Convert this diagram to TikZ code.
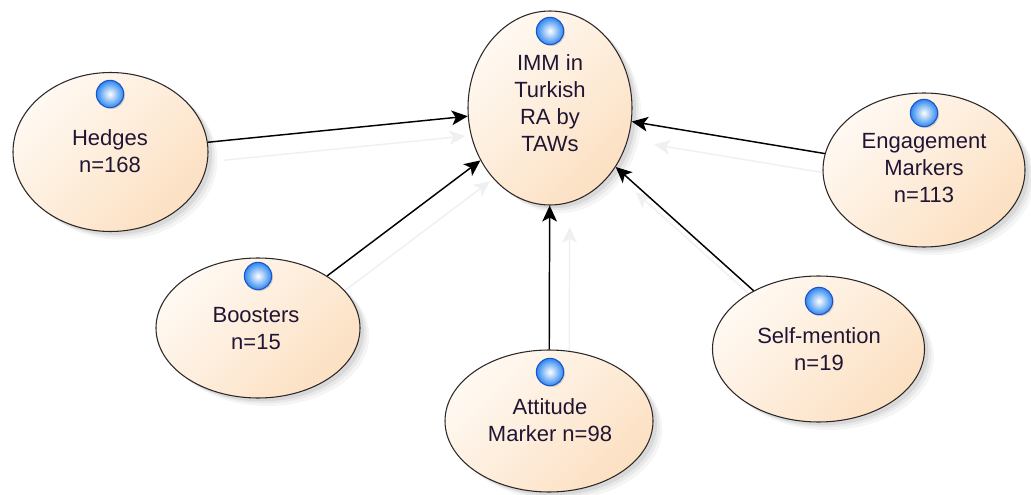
\documentclass[tikz,border=0pt]{standalone}
\usepackage{fontspec}
\setmainfont{Liberation Sans}
\usetikzlibrary{shapes.geometric,arrows.meta,shadows,backgrounds}

\definecolor{bubbleLight}{RGB}{255,249,242}
\definecolor{bubbleDark}{RGB}{252,224,194}
\definecolor{bubbleEdge}{RGB}{45,40,40}
\definecolor{labelInk}{RGB}{32,22,52}
\definecolor{dotRim}{RGB}{25,85,200}
\definecolor{dotBlue}{RGB}{45,135,240}

\begin{document}
\begin{tikzpicture}[x=0.75pt,y=-0.75pt,
  bubble/.style={ellipse, draw=bubbleEdge, line width=0.8pt,
    top color=bubbleLight, bottom color=bubbleDark, shading angle=45,
    inner sep=0pt,
    general shadow={fill=black, fill opacity=.04, shadow xshift=7pt, shadow yshift=-6pt},
    general shadow={fill=black, fill opacity=.05, shadow xshift=5pt, shadow yshift=-4pt},
    general shadow={fill=black, fill opacity=.07, shadow xshift=3pt, shadow yshift=-2.5pt}},
  dot/.style={circle, minimum size=20.5pt, inner sep=0pt, draw=dotRim, line width=0.8pt,
    inner color=white, outer color=dotBlue,
    general shadow={fill=black, fill opacity=.15, shadow xshift=1pt, shadow yshift=-1pt}},
  caption/.style={font=\fontsize{16.5}{20.25}\selectfont, text=labelInk, align=center, inner sep=0pt},
  link/.style={draw=black, line width=1.1pt, -{Stealth[length=12pt,width=11pt,inset=3pt]}},
  ghost/.style={draw=black!6, line width=1.1pt, -{Stealth[length=12pt,width=11pt,inset=3pt]}}
]
\useasboundingbox (0,0) rectangle (1031,495);

% ellipses
\node[bubble, minimum width=123pt, minimum height=145.5pt] (imm) at (550,108) {};
\node[bubble, minimum width=146.25pt, minimum height=119.25pt] (hed) at (110.5,152) {};
\node[bubble, minimum width=151.5pt, minimum height=115.5pt] (eng) at (924,170) {};
\node[bubble, minimum width=156pt, minimum height=106.5pt] (att) at (549,421) {};
\node[bubble, minimum width=153pt, minimum height=105pt] (boo) at (258,328) {};
\node[bubble, minimum width=159pt, minimum height=109.5pt] (sel) at (818.5,349) {};

% blue markers
\node[dot] (immI) at (550,31) {};
\node[dot] (hedI) at (110,94) {};
\node[dot] (engI) at (924,113) {};
\node[dot] (attI) at (550,372) {};
\node[dot] (booI) at (258,276) {};
\node[dot] (selI) at (819,301) {};

% labels
\node[caption] (immT) at (550,103) {IMM in\\Turkish\\RA by\\TAWs};
\node[caption] (hedT) at (110,151) {Hedges\\n=168};
\node[caption] (engT) at (924,168) {Engagement\\Markers\\n=113};
\node[caption] (attT) at (550,420) {Attitude\\Marker n=98};
\node[caption] (booT) at (256,329) {Boosters\\n=15};
\node[caption] (selT) at (819,349) {Self-mention\\n=19};

% faint connector shadows
\begin{pgfonlayer}{background}
  \draw[ghost, transform canvas={shift={(16,18)}}, shorten >=14] (hed) -- (imm);
  \draw[ghost, transform canvas={shift={(16,16)}}, shorten >=6] (boo) -- (imm);
  \draw[ghost, transform canvas={shift={(20,16)}}, shorten >=4] (att) -- (imm);
  \draw[ghost, transform canvas={shift={(12,18)}}, shorten >=8] (sel) -- (imm);
  \draw[ghost, transform canvas={shift={(4,20)}}, shorten >=14] (eng) -- (imm);
\end{pgfonlayer}

% connectors
\draw[link] (hed) -- (imm);
\draw[link] (boo) -- (imm);
\draw[link] (att) -- (imm);
\draw[link] (sel) -- (imm);
\draw[link] (eng) -- (imm);
\end{tikzpicture}
\end{document}
